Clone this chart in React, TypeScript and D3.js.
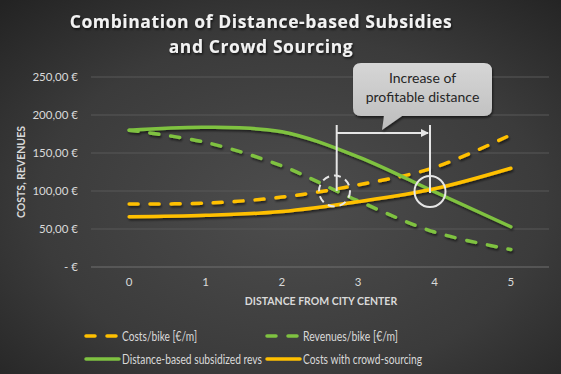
import React from "react";
import * as d3 from "d3";

const categories = ["0", "1", "2", "3", "4", "5"];
const costsBike = [83, 84, 92, 108, 131, 174];
const revenuesBike = [180, 164, 133, 87, 46, 23];
const subsidizedRevs = [180, 184, 178, 145, 99, 53];
const crowdCosts = [66, 68, 73, 86, 103, 130];
const yTicks = [0, 50, 100, 150, 200, 250];

const GREEN = "#7fc241";
const ORANGE = "#ffc000";

const series = [
  { name: "Costs/bike [€/m]", values: costsBike, color: ORANGE, dashed: true, w: 75 },
  { name: "Revenues/bike [€/m]", values: revenuesBike, color: GREEN, dashed: true, w: 95 },
  { name: "Distance-based subsidized revs", values: subsidizedRevs, color: GREEN, dashed: false, w: 140 },
  { name: "Costs with crowd-sourcing", values: crowdCosts, color: ORANGE, dashed: false, w: 119 },
];

const W = 561;
const H = 374;

export default function App() {
  const x = d3.scalePoint<string>().domain(categories).range([91, 549]).padding(0.5);
  const y = d3.scaleLinear().domain([0, 250]).range([267, 77]);
  const line = d3
    .line<number>()
    .x((_, i) => x(categories[i]) as number)
    .y((d) => y(d))
    .curve(d3.curveCatmullRom.alpha(0.5));

  const fmt = (v: number) => (v === 0 ? "-  €" : d3.format(".2f")(v).replace(".", ",") + " €");
  const font = "Lato, 'Open Sans', sans-serif";

  const xL = 336.7;
  const yArrow = 133;

  const legendRows = [
    [series[0], series[1]],
    [series[2], series[3]],
  ];

  return (
    <svg width={W} height={H} style={{ position: "absolute", left: 0, top: 0 }}>
      <defs>
        <radialGradient id="bg" cx="0.52" cy="0.55" r="0.75">
          <stop offset="0" stopColor="#4d4d4d" />
          <stop offset="0.6" stopColor="#3b3b3b" />
          <stop offset="1" stopColor="#232323" />
        </radialGradient>
        <linearGradient id="box" x1="0" y1="0" x2="0" y2="1">
          <stop offset="0" stopColor="#d6d6d6" />
          <stop offset="1" stopColor="#bdbdbd" />
        </linearGradient>
        <filter id="shadow" x="-10%" y="-10%" width="120%" height="130%">
          <feDropShadow dx="1" dy="2" stdDeviation="1.2" floodColor="#000" floodOpacity="0.55" />
        </filter>
        <filter id="tshadow" x="-5%" y="-20%" width="110%" height="150%">
          <feDropShadow dx="1" dy="1.5" stdDeviation="1" floodColor="#000" floodOpacity="0.7" />
        </filter>
        <marker id="arrow" markerWidth="8" markerHeight="8" refX="7" refY="4" orient="auto" markerUnits="userSpaceOnUse">
          <path d="M0,0 L8,4 L0,8 z" fill="#e6e6e6" />
        </marker>
      </defs>
      <rect x={0} y={0} width={W} height={H} fill="url(#bg)" />

      <g fontFamily="'Open Sans', sans-serif" fontWeight="bold" fontSize={17.5} fill="#f2f2f2" textAnchor="middle" letterSpacing={0.6} filter="url(#tshadow)">
        <text x={261} y={28}>Combination of Distance-based Subsidies</text>
        <text x={261} y={53}>and Crowd Sourcing</text>
      </g>

      {yTicks.map((t) => (
        <line key={t} x1={91} x2={549} y1={y(t)} y2={y(t)} stroke={t === 0 ? "#707070" : "#585858"} strokeWidth={1} />
      ))}
      {yTicks.map((t) => (
        <text key={"l" + t} x={78} y={y(t) + 4} textAnchor="end" fontFamily={font} fontSize={11.5} fill="#d9d9d9">
          {fmt(t)}
        </text>
      ))}
      <text
        transform={`translate(25,${172}) rotate(-90)`}
        textAnchor="middle"
        fontFamily={font}
        fontWeight="bold"
        fontSize={10.5}
        fill="#d9d9d9"
      >
        COSTS, REVENUES
      </text>
      {categories.map((c) => (
        <text key={c} x={x(c) as number} y={286} textAnchor="middle" fontFamily={font} fontSize={11.5} fill="#d9d9d9">
          {c}
        </text>
      ))}
      <text x={321} y={305} textAnchor="middle" fontFamily={font} fontWeight="bold" fontSize={10.5} fill="#d9d9d9">
        DISTANCE FROM CITY CENTER
      </text>

      <g filter="url(#shadow)">
        {series.map((s) => (
          <path
            key={s.name}
            d={line(s.values) || ""}
            fill="none"
            stroke={s.color}
            strokeWidth={3.5}
            strokeLinecap="round"
            strokeDasharray={s.dashed ? "9 12" : undefined}
          />
        ))}
      </g>

      <g stroke="#e6e6e6" strokeWidth={2} fill="none">
        <circle cx={334.5} cy={191} r={15.5} strokeDasharray="7 5" />
        <circle cx={430} cy={191.5} r={15.5} />
        <line x1={xL} x2={xL} y1={125} y2={191} />
        <line x1={430} x2={430} y1={125} y2={193} />
        <line x1={xL} x2={428} y1={yArrow} y2={yArrow} markerEnd="url(#arrow)" />
      </g>
      <g filter="url(#shadow)">
        <path
          d="M361,63 H484 Q492,63 492,71 V108 Q492,116 484,116 H402 L382,130 L384,116 H361 Q353,116 353,108 V71 Q353,63 361,63 Z"
          fill="url(#box)"
        />
      </g>
      <g fontFamily={font} fontSize={14} fill="#262626" textAnchor="middle">
        <text x={422.5} y={83}>Increase of</text>
        <text x={422.5} y={102}>profitable distance</text>
      </g>

      {legendRows.map((row, ri) =>
        row.map((s, ci) => {
          const lx = ci === 0 ? 85 : 266;
          const ly = ri === 0 ? 336 : 359;
          return (
            <g key={s.name}>
              <line
                x1={lx + 1}
                x2={lx + 34}
                y1={ly}
                y2={ly}
                stroke={s.color}
                strokeWidth={3.5}
                strokeLinecap="round"
                strokeDasharray={s.dashed ? "9 12" : undefined}
              />
              <text
                x={lx + 37}
                y={ly + 4.5}
                fontFamily={font}
                fontSize={13}
                fill="#d9d9d9"
                textLength={s.w}
                lengthAdjust="spacingAndGlyphs"
              >
                {s.name}
              </text>
            </g>
          );
        })
      )}
    </svg>
  );
}
